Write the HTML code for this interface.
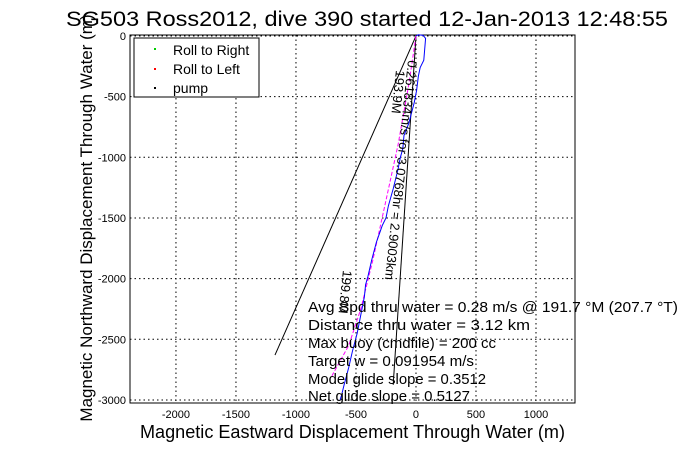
<!DOCTYPE html>
<html><head><meta charset="utf-8"><style>
body{margin:0;background:#fff;width:681px;height:454px;overflow:hidden}
svg{font-family:"Liberation Sans",Arial,sans-serif}
</style></head><body>
<svg id="chart" width="681" height="454" viewBox="0 0 681 454" xmlns="http://www.w3.org/2000/svg">
<text x="66" y="26" font-size="21" textLength="602" lengthAdjust="spacingAndGlyphs">SG503 Ross2012, dive 390 started 12-Jan-2013 12:48:55</text>
<g id="grid"></g>
<g id="axes"></g>
<g id="series"></g>
<text x="140" y="438" font-size="18" textLength="425" lengthAdjust="spacingAndGlyphs">Magnetic Eastward Displacement Through Water (m)</text>
<text transform="translate(92,218) rotate(-90)" font-size="17" text-anchor="middle">Magnetic Northward Displacement Through Water (m)</text>
<g>
<rect x="134" y="38" width="125" height="59" fill="#fff" stroke="#000"/>
<rect x="154" y="48" width="2" height="2" fill="#0c0"/><text x="173" y="55" font-size="14">Roll to Right</text>
<rect x="154" y="68" width="2" height="2" fill="#f00"/><text x="173" y="74" font-size="14">Roll to Left</text>
<rect x="154" y="87" width="2" height="2" fill="#000"/><text x="173" y="93" font-size="14">pump</text>
</g>
<g font-size="13">
<text transform="translate(408,60) rotate(96)" font-size="13">0.261834m/s for 3.0768hr = 2.9003km</text>
<text transform="translate(396,70) rotate(96)">193.9M</text>
<text transform="translate(343,270) rotate(96)">199.8M</text>
</g>
<g font-size="15">
<text x="308" y="312" textLength="370" lengthAdjust="spacingAndGlyphs">Avg Spd thru water =  0.28 m/s @ 191.7   °M (207.7 °T)</text>
<text x="308" y="330" textLength="222" lengthAdjust="spacingAndGlyphs">Distance thru water =  3.12 km</text>
<text x="308" y="348" textLength="188" lengthAdjust="spacingAndGlyphs">Max buoy (cmdfile) = 200 cc</text>
<text x="308" y="366" textLength="166" lengthAdjust="spacingAndGlyphs">Target w = 0.091954 m/s</text>
<text x="308" y="384" textLength="178" lengthAdjust="spacingAndGlyphs">Model glide slope = 0.3512</text>
<text x="308" y="401" textLength="162" lengthAdjust="spacingAndGlyphs">Net glide slope = 0.5127</text>
</g>
</svg>
<script>
const xTicks=[-2000,-1500,-1000,-500,0,500,1000];
const yTicks=[0,-500,-1000,-1500,-2000,-2500,-3000];
const trackX=[0,20,60,80,65,35,20,5,-15,-60,-100,-110,-130,-150,-190,-230,-250,-280,-330,-370,-400,-420,-430,-460,-490,-530,-560,-600,-620,-633];
const trackY=[0,10,5,-20,-200,-260,-330,-450,-550,-720,-820,-930,-1000,-1100,-1260,-1400,-1500,-1560,-1700,-1850,-1980,-2050,-2150,-2300,-2450,-2600,-2730,-2880,-2960,-3000];
const magX=[0,-60,-150,-260,-360,-460,-560,-700];
const magY=[0,-400,-900,-1400,-1850,-2250,-2550,-2800];
const line1X=[0,-1175];const line1Y=[0,-2630];
const line2X=[0,-190];const line2Y=[0,-2875];
const X0=130,X1=575,Y0=35,Y1=403,xmin=-2383,xmax=1325,ymin=-3025,ymax=8;
const sx=v=>X0+(v-xmin)/(xmax-xmin)*(X1-X0);
const sy=v=>Y1-(v-ymin)/(ymax-ymin)*(Y1-Y0);
const NS="http://www.w3.org/2000/svg";
function mk(tag,parent,attrs){const e=document.createElementNS(NS,tag);for(const k in attrs)e.setAttribute(k,attrs[k]);parent.appendChild(e);return e;}
const grid=document.getElementById('grid'),axes=document.getElementById('axes'),ser=document.getElementById('series');
xTicks.forEach(t=>{
 const l=mk('line',grid,{x1:sx(t),x2:sx(t),y1:Y0,y2:Y1,stroke:'#000','stroke-dasharray':'1.5,3','stroke-width':1});
 
 
 const tx=mk('text',axes,{x:sx(t),y:Y1+15,'font-size':11,'text-anchor':'middle'});tx.textContent=t;
 
 
});
yTicks.forEach(t=>{
 const l=mk('line',grid,{x1:X0,x2:X1,y1:sy(t),y2:sy(t),stroke:'#000','stroke-dasharray':'1.5,3','stroke-width':1});
 
 
 const tx=mk('text',axes,{x:X0-4,y:sy(t)+4,'font-size':11,'text-anchor':'end'});tx.textContent=t;
 
 
});
const fr=mk('rect',axes,{x:X0,y:Y0,width:X1-X0,height:Y1-Y0,fill:'none',stroke:'#000'});


function poly(xs,ys,color,name,dash){
 const p=mk('polyline',ser,{points:xs.map((x,i)=>sx(x)+','+sy(ys[i])).join(' '),fill:'none',stroke:color,'stroke-width':1});
 if(dash)p.setAttribute('stroke-dasharray',dash);
 
 
}
poly(line1X,line1Y,'#000','heading-line-1');
poly(line2X,line2Y,'#000','heading-line-2');
poly(magX,magY,'#f0f','magenta-track','4,2');
poly(trackX,trackY,'#00f','blue-track');
</script>
</body></html>
